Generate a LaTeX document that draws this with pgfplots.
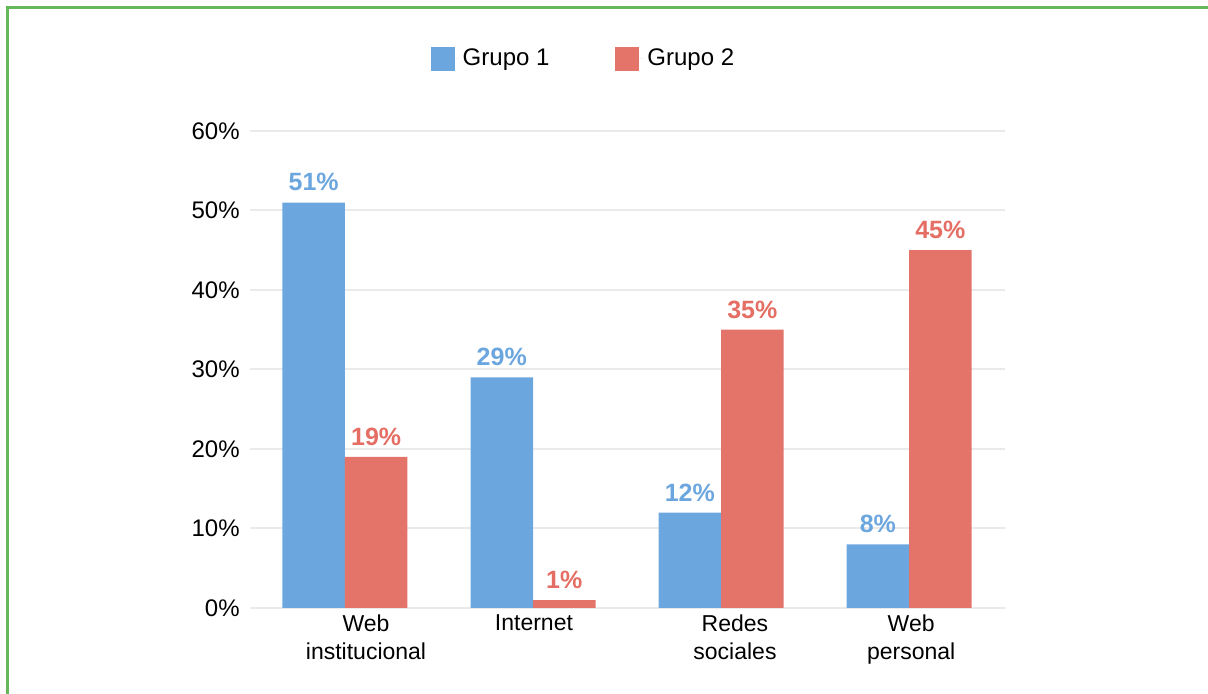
\documentclass[border=0pt]{standalone}
\usepackage{pgfplots}
\pgfplotsset{compat=1.18}
\usepackage{fontspec}
\setmainfont{Liberation Sans}
\definecolor{barblue}{RGB}{108,166,222}
\definecolor{barred}{RGB}{228,115,106}
\definecolor{txtblue}{RGB}{108,166,222}
\definecolor{txtred}{RGB}{228,110,100}
\definecolor{frame}{RGB}{100,184,90}
\definecolor{gridc}{RGB}{234,234,234}
\begin{document}
\begin{tikzpicture}[x=1pt,y=1pt]
\useasboundingbox (0,0) rectangle (604,347);
\draw[frame, line width=1.5pt] (3.5,-5) -- (3.5,343.25) -- (610,343.25);
\begin{axis}[
  at={(125pt,43pt)}, anchor=south west,
  scale only axis, width=377.5pt, height=238.5pt,
  xmin=-0.505, xmax=3.51, ymin=0, ymax=60,
  ytick={0,10,...,60},
  yticklabel={\pgfmathprintnumber{\tick}\%},
  /pgf/number format/assume math mode=true,
  yticklabel style={font=\fontsize{12}{14}\selectfont, inner sep=0pt, xshift=-5pt},
  xtick={0.112,1.005,2.074,3.011},
  xticklabels={{Web\\institucional},{Internet},{Redes\\sociales},{Web\\personal}},
  xticklabel style={font=\fontsize{11.5}{14}\selectfont, align=center, inner sep=0pt, yshift=-3pt},
  axis line style={draw=none},
  major tick length=0pt,
  tick style={draw=none},
  ymajorgrids, major grid style={gridc, line width=1pt},
  ybar, bar width=31.25pt,
  nodes near coords={\pgfmathprintnumber{\pgfplotspointmeta}\%},
  nodes near coords style={font=\bfseries\fontsize{12.5}{14}\selectfont, inner sep=0pt, anchor=south, yshift=5.5pt},
  legend columns=2,
  legend style={draw=none, at={(0.443,1.151)}, anchor=center, font=\fontsize{12}{14}\selectfont,
    /tikz/every even column/.append style={column sep=31pt}},
  legend image code/.code={\fill[#1] (0pt,-6pt) rectangle (12pt,6pt); \path (0pt,0pt) -- (14pt,0pt);},
]
\addplot[fill=barblue, draw=none, bar shift=-15.625pt, every node near coord/.append style={text=txtblue}]
  coordinates {(0,51) (1,29) (2,12) (3,8)};
\addplot[fill=barred, draw=none, bar shift=15.625pt, every node near coord/.append style={text=txtred}]
  coordinates {(0,19) (1,1) (2,35) (3,45)};
\legend{Grupo 1, Grupo 2}
\end{axis}
\end{tikzpicture}
\end{document}
